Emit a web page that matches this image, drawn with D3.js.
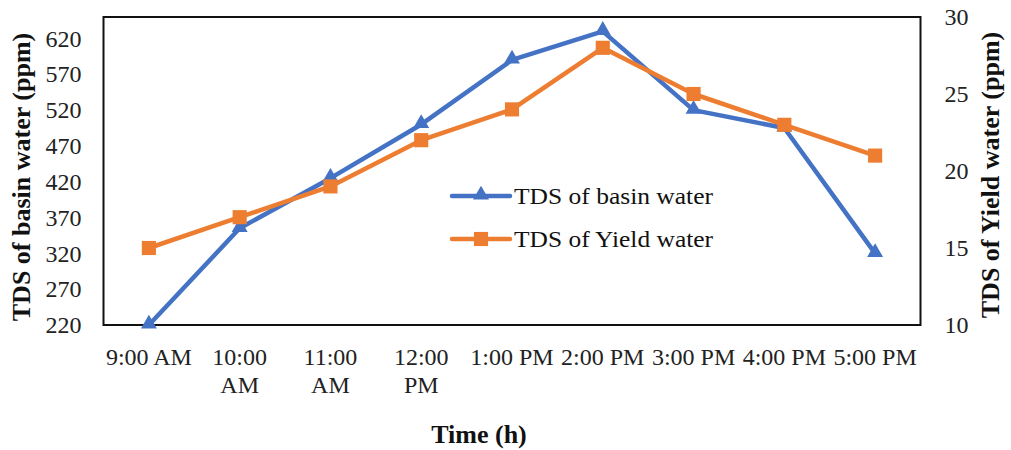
<!DOCTYPE html>
<html><head><meta charset="utf-8">
<script src="https://cdn.jsdelivr.net/npm/d3@7/dist/d3.min.js"></script>
<style>body{margin:0;background:#fff}</style>
</head><body><svg id="c" width="1011" height="450"></svg>
<script>
const categories = ["9:00 AM","10:00 AM","11:00 AM","12:00 PM","1:00 PM","2:00 PM","3:00 PM","4:00 PM","5:00 PM"];
const categoryLines = [["9:00 AM"],["10:00","AM"],["11:00","AM"],["12:00","PM"],["1:00 PM"],["2:00 PM"],["3:00 PM"],["4:00 PM"],["5:00 PM"]];
const basinValues = [220,355,425,500,590,630,520,495,320];
const yieldValues = [15,17,19,22,24,28,25,23,21];
const leftTicks = [220,270,320,370,420,470,520,570,620];
const rightTicks = [10,15,20,25,30];
const seriesNames = ["TDS of basin water","TDS of Yield water"];

const svg = d3.select("#c");
const L=103.5, R=920.5, T=17, B=325;
const font = "'Liberation Serif', 'Times New Roman', serif";
const blue="#4472C4", orange="#ED7D31";

const x = d3.scalePoint().domain(categories).range([L,R]).padding(0.5);
const yL = d3.scaleLinear().domain([220,650]).range([B,T]);
const yR = d3.scaleLinear().domain([10,30]).range([B,T]);

const gl = svg.append("g").attr("transform",`translate(${L},0)`)
  .call(d3.axisLeft(yL).tickValues(leftTicks).tickSize(0).tickPadding(22));
gl.select(".domain").remove();
gl.selectAll("text").attr("font-family",font).attr("font-size",24).attr("fill","#222");

const gr = svg.append("g").attr("transform",`translate(${R},0)`)
  .call(d3.axisRight(yR).tickValues(rightTicks).tickSize(0).tickPadding(24));
gr.select(".domain").remove();
gr.selectAll("text").attr("font-family",font).attr("font-size",24).attr("fill","#222");

const gx = svg.append("g");
categories.forEach((c,i)=>{
  const t = gx.append("text").attr("x",x(c)).attr("y",365).attr("text-anchor","middle")
    .attr("font-family",font).attr("font-size",24).attr("fill","#222");
  categoryLines[i].forEach((ln,j)=>{
    t.append("tspan").attr("x",x(c)).attr("dy",j===0?0:28).text(ln);
  });
});

svg.append("rect").attr("x",L).attr("y",T).attr("width",R-L).attr("height",B-T)
  .attr("fill","none").attr("stroke","#111").attr("stroke-width",2);

const lineL = d3.line().x((d,i)=>x(categories[i])).y(d=>yL(d));
const lineR = d3.line().x((d,i)=>x(categories[i])).y(d=>yR(d));
svg.append("path").attr("d",lineL(basinValues)).attr("fill","none").attr("stroke",blue).attr("stroke-width",4.5).attr("stroke-linejoin","round");
svg.append("path").attr("d",lineR(yieldValues)).attr("fill","none").attr("stroke",orange).attr("stroke-width",4.5).attr("stroke-linejoin","round");

const tri = d3.symbol().type(d3.symbolTriangle).size(110);
const sq = d3.symbol().type(d3.symbolSquare).size(200);
svg.append("g").selectAll("path").data(basinValues).join("path")
  .attr("transform",(d,i)=>`translate(${x(categories[i])},${yL(d)-1})`).attr("d",tri()).attr("fill",blue);
svg.append("g").selectAll("path").data(yieldValues).join("path")
  .attr("transform",(d,i)=>`translate(${x(categories[i])},${yR(d)})`).attr("d",sq()).attr("fill",orange);

const lg = svg.append("g");
[[blue,tri],[orange,sq]].forEach((s,i)=>{
  const yy = 196 + i*43;
  lg.append("line").attr("x1",452).attr("x2",510).attr("y1",yy).attr("y2",yy).attr("stroke",s[0]).attr("stroke-width",4.5).attr("stroke-linecap","round");
  lg.append("path").attr("transform",`translate(481,${yy-(i===0?1:0)})`).attr("d",s[1]()).attr("fill",s[0]);
  lg.append("text").attr("x",514).attr("y",yy+8).attr("font-family",font).attr("font-size",24).attr("fill","#111")
    .attr("textLength",199).attr("lengthAdjust","spacingAndGlyphs").text(seriesNames[i]);
});

svg.append("text").attr("x",479).attr("y",443).attr("text-anchor","middle").attr("font-family",font)
  .attr("font-size",26).attr("font-weight","bold").attr("fill","#111").text("Time (h)");
svg.append("text").attr("transform","translate(30,177) rotate(-90)").attr("text-anchor","middle").attr("font-family",font)
  .attr("font-size",26).attr("font-weight","bold").attr("fill","#111").text("TDS of basin water (ppm)");
svg.append("text").attr("transform","translate(999,175) rotate(-90)").attr("text-anchor","middle").attr("font-family",font)
  .attr("font-size",26).attr("font-weight","bold").attr("fill","#111").text("TDS of Yield water (ppm)");
</script></body></html>
